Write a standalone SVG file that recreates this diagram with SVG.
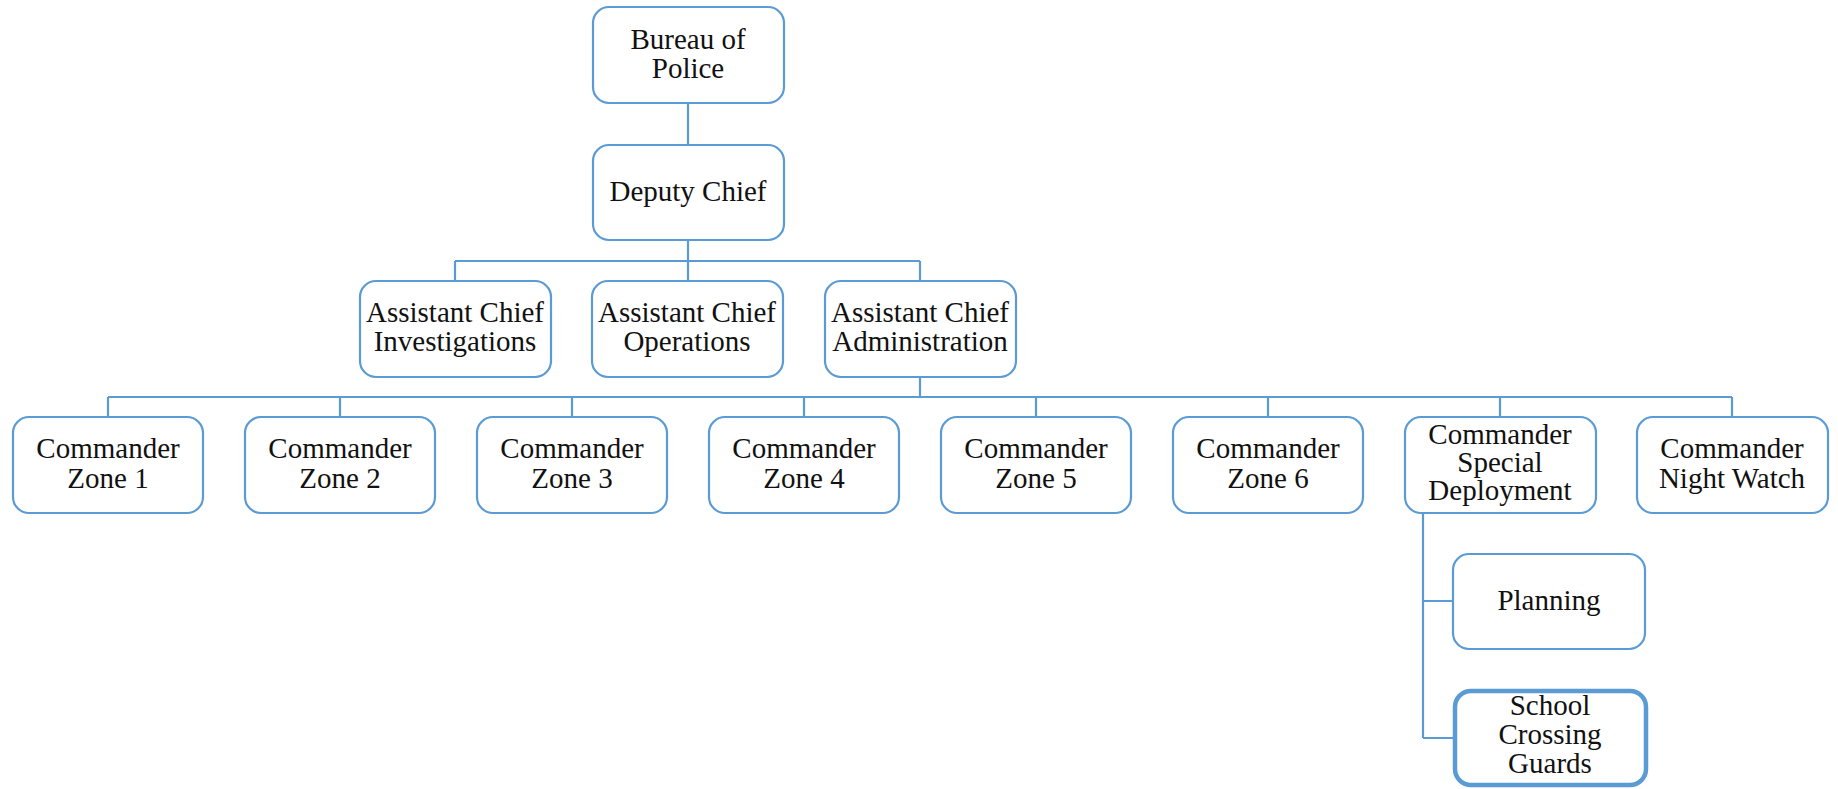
<svg xmlns="http://www.w3.org/2000/svg" width="1838" height="789" viewBox="0 0 1838 789">
<style>
.box{fill:#fff;stroke:#5b9bd5;stroke-width:2.2}
.bold{stroke-width:4.5}
.t{font-family:"Liberation Serif","Times New Roman",serif;font-size:29px;fill:#111;text-anchor:middle}
.c{fill:none;stroke:#5b9bd5;stroke-width:2.2}
</style>
<rect width="1838" height="789" fill="#fff"/>
<g id="connectors">
<path class="c" d="M688 103V145M688 240V261M455 261H920M455 261V281M688 261V281M920 261V281M920 377V397M108 397H1732M108 397V417M340 397V417M572 397V417M804 397V417M1036 397V417M1268 397V417M1500 397V417M1732 397V417M1423 513V738M1423 601H1453M1423 738H1454"/>
</g>
<g id="bureau"><rect class="box" x="593" y="7" width="191" height="96" rx="16"/><text class="t" x="688" y="49">Bureau of</text><text class="t" x="688" y="78">Police</text></g>
<g id="deputy"><rect class="box" x="593" y="145" width="191" height="95" rx="16"/><text class="t" x="688" y="201">Deputy Chief</text></g>
<g id="ac-inv"><rect class="box" x="360" y="281" width="191" height="96" rx="16"/><text class="t" x="455" y="322">Assistant Chief</text><text class="t" x="455" y="351">Investigations</text></g>
<g id="ac-ops"><rect class="box" x="592" y="281" width="191" height="96" rx="16"/><text class="t" x="687" y="322">Assistant Chief</text><text class="t" x="687" y="351">Operations</text></g>
<g id="ac-adm"><rect class="box" x="825" y="281" width="191" height="96" rx="16"/><text class="t" x="920" y="322">Assistant Chief</text><text class="t" x="920" y="351">Administration</text></g>
<g id="z1"><rect class="box" x="13" y="417" width="190" height="96" rx="16"/><text class="t" x="108" y="458">Commander</text><text class="t" x="108" y="488">Zone 1</text></g>
<g id="z2"><rect class="box" x="245" y="417" width="190" height="96" rx="16"/><text class="t" x="340" y="458">Commander</text><text class="t" x="340" y="488">Zone 2</text></g>
<g id="z3"><rect class="box" x="477" y="417" width="190" height="96" rx="16"/><text class="t" x="572" y="458">Commander</text><text class="t" x="572" y="488">Zone 3</text></g>
<g id="z4"><rect class="box" x="709" y="417" width="190" height="96" rx="16"/><text class="t" x="804" y="458">Commander</text><text class="t" x="804" y="488">Zone 4</text></g>
<g id="z5"><rect class="box" x="941" y="417" width="190" height="96" rx="16"/><text class="t" x="1036" y="458">Commander</text><text class="t" x="1036" y="488">Zone 5</text></g>
<g id="z6"><rect class="box" x="1173" y="417" width="190" height="96" rx="16"/><text class="t" x="1268" y="458">Commander</text><text class="t" x="1268" y="488">Zone 6</text></g>
<g id="special"><rect class="box" x="1405" y="417" width="191" height="96" rx="16"/><text class="t" x="1500" y="444">Commander</text><text class="t" x="1500" y="472">Special</text><text class="t" x="1500" y="500">Deployment</text></g>
<g id="night"><rect class="box" x="1637" y="417" width="191" height="96" rx="16"/><text class="t" x="1732" y="458">Commander</text><text class="t" x="1732" y="488">Night Watch</text></g>
<g id="planning"><rect class="box" x="1453" y="554" width="192" height="95" rx="16"/><text class="t" x="1549" y="610">Planning</text></g>
<g id="school"><rect class="box bold" x="1455" y="691" width="191" height="94" rx="16"/><text class="t" x="1550" y="715">School</text><text class="t" x="1550" y="744">Crossing</text><text class="t" x="1550" y="773">Guards</text></g>
</svg>
